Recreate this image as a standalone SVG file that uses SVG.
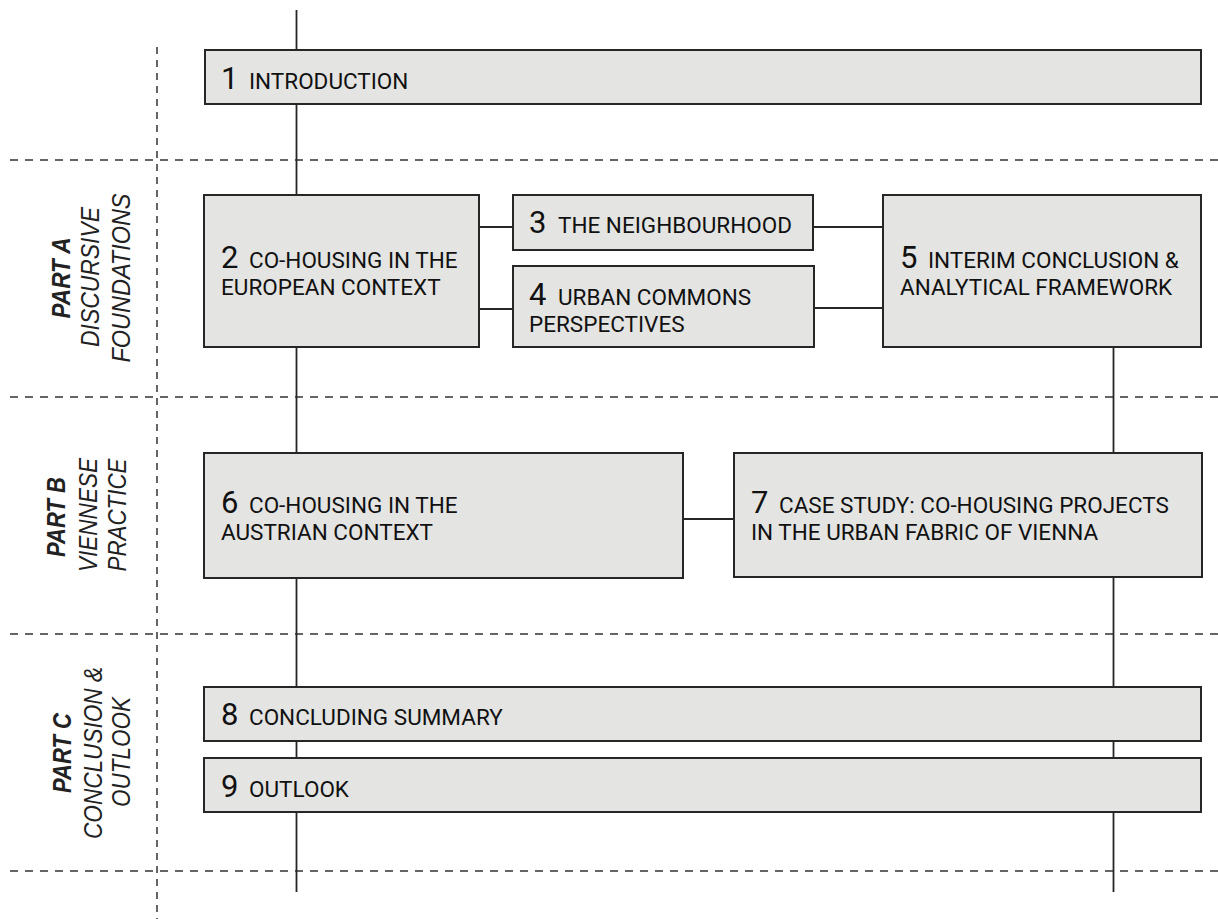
<svg xmlns="http://www.w3.org/2000/svg" width="1218" height="919" viewBox="0 0 1218 919">
<style>
.box{fill:#e4e4e2;stroke:#262626;stroke-width:2}
.conn{stroke:#262626;stroke-width:1.8;fill:none}
.dash{stroke:#333;stroke-width:1.5;fill:none;stroke-dasharray:8 7}
.vdash{stroke:#333;stroke-width:1.5;fill:none;stroke-dasharray:7 6}
.num{font-family:Roboto,"Liberation Sans",sans-serif;font-size:31px;font-weight:400;fill:#111}
.lbl{font-family:Roboto,"Liberation Sans",sans-serif;font-size:22.5px;font-weight:400;fill:#111}
.part{font-family:"Liberation Sans",Arial,sans-serif;font-size:25px;font-style:italic;fill:#222;text-anchor:middle}
.partb{font-weight:bold}
</style>
<rect width="1218" height="919" fill="#ffffff"/>
<g id="grid">
<line class="dash" x1="10" y1="160" x2="1218" y2="160"/>
<line class="dash" x1="10" y1="397" x2="1218" y2="397"/>
<line class="dash" x1="10" y1="634" x2="1218" y2="634"/>
<line class="dash" x1="10" y1="871" x2="1218" y2="871"/>
<line class="vdash" x1="157" y1="47" x2="157" y2="919"/>
</g>
<g id="sections">
<g id="partA">
<text class="part partb" transform="translate(70,278) rotate(-90)" textLength="81" lengthAdjust="spacingAndGlyphs">PART A</text>
<text class="part" transform="translate(99,277) rotate(-90)" textLength="140" lengthAdjust="spacingAndGlyphs">DISCURSIVE</text>
<text class="part" transform="translate(130,278) rotate(-90)" textLength="169" lengthAdjust="spacingAndGlyphs">FOUNDATIONS</text>
</g>
<g id="partB">
<text class="part partb" transform="translate(65,517) rotate(-90)" textLength="80" lengthAdjust="spacingAndGlyphs">PART B</text>
<text class="part" transform="translate(97,515) rotate(-90)" textLength="114" lengthAdjust="spacingAndGlyphs">VIENNESE</text>
<text class="part" transform="translate(126,515) rotate(-90)" textLength="113" lengthAdjust="spacingAndGlyphs">PRACTICE</text>
</g>
<g id="partC">
<text class="part partb" transform="translate(71,753) rotate(-90)" textLength="80" lengthAdjust="spacingAndGlyphs">PART C</text>
<text class="part" transform="translate(102,753) rotate(-90)" textLength="172" lengthAdjust="spacingAndGlyphs">CONCLUSION &amp;</text>
<text class="part" transform="translate(130,752) rotate(-90)" textLength="110" lengthAdjust="spacingAndGlyphs">OUTLOOK</text>
</g>
</g>
<g id="connectors">
<line class="conn" x1="296.5" y1="10" x2="296.5" y2="892"/>
<line class="conn" x1="1113.5" y1="347" x2="1113.5" y2="892"/>
<line class="conn" x1="479" y1="227" x2="513" y2="227"/>
<line class="conn" x1="479" y1="309" x2="513" y2="309"/>
<line class="conn" x1="813" y1="227" x2="883" y2="227"/>
<line class="conn" x1="814" y1="308" x2="883" y2="308"/>
<line class="conn" x1="683" y1="519" x2="734" y2="519"/>
</g>
<g id="node1">
<rect class="box" x="205" y="50" width="996" height="54"/>
<text class="num" x="221" y="89">1</text>
<text class="lbl" x="249" y="89">INTRODUCTION</text>
</g>
<g id="node2">
<rect class="box" x="204" y="195" width="275" height="152"/>
<text class="num" x="221" y="268">2</text>
<text class="lbl" x="249" y="268">CO-HOUSING IN THE</text>
<text class="lbl" x="221" y="295">EUROPEAN CONTEXT</text>
</g>
<g id="node3">
<rect class="box" x="513" y="195" width="300" height="55"/>
<text class="num" x="529" y="233">3</text>
<text class="lbl" x="558" y="233">THE NEIGHBOURHOOD</text>
</g>
<g id="node4">
<rect class="box" x="513" y="266" width="301" height="81"/>
<text class="num" x="529" y="305">4</text>
<text class="lbl" x="558" y="305">URBAN COMMONS</text>
<text class="lbl" x="529" y="332">PERSPECTIVES</text>
</g>
<g id="node5">
<rect class="box" x="883" y="195" width="318" height="152"/>
<text class="num" x="900" y="268">5</text>
<text class="lbl" x="928" y="268">INTERIM CONCLUSION &amp;</text>
<text class="lbl" x="900" y="295">ANALYTICAL FRAMEWORK</text>
</g>
<g id="node6">
<rect class="box" x="204" y="453" width="479" height="125"/>
<text class="num" x="221" y="513">6</text>
<text class="lbl" x="249" y="513">CO-HOUSING IN THE</text>
<text class="lbl" x="221" y="540">AUSTRIAN CONTEXT</text>
</g>
<g id="node7">
<rect class="box" x="734" y="453" width="468" height="124"/>
<text class="num" x="751" y="513">7</text>
<text class="lbl" x="779" y="513">CASE STUDY: CO-HOUSING PROJECTS</text>
<text class="lbl" x="751" y="540">IN THE URBAN FABRIC OF VIENNA</text>
</g>
<g id="node8">
<rect class="box" x="204" y="687" width="997" height="54"/>
<text class="num" x="221" y="725">8</text>
<text class="lbl" x="249" y="725">CONCLUDING SUMMARY</text>
</g>
<g id="node9">
<rect class="box" x="204" y="758" width="997" height="54"/>
<text class="num" x="221" y="797">9</text>
<text class="lbl" x="249" y="797">OUTLOOK</text>
</g>
</svg>
